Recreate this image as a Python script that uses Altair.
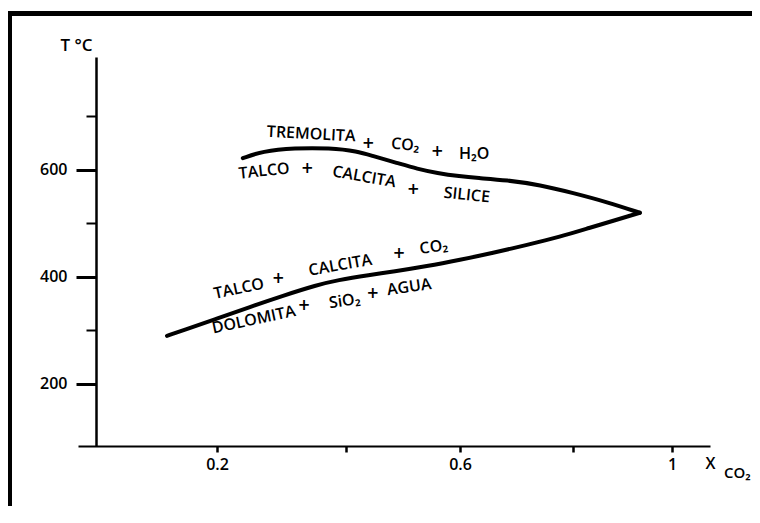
import altair as alt
import pandas as pd

# Upper branch (Tremolita / Talco+Calcita+Silice), left to right
upper_x = [0.24, 0.27, 0.32, 0.375, 0.42, 0.447, 0.49, 0.525, 0.56, 0.60, 0.63, 0.683, 0.742, 0.80, 0.869, 0.935]
upper_t = [622, 635, 641, 641, 635, 626, 613, 602, 594, 588, 585, 581, 572, 557, 540, 520]

# Lower branch (Talco+Calcita+CO2 / Dolomita+SiO2+Agua), left to right
lower_x = [0.1225, 0.147, 0.20, 0.251, 0.302, 0.355, 0.386, 0.442, 0.483, 0.542, 0.60, 0.658, 0.719, 0.777, 0.834, 0.885, 0.935]
lower_t = [290, 300, 322, 344, 365, 385, 394, 404, 410, 420, 432, 445, 460, 475, 492, 506, 520]

# Field labels (data coordinates)
label_text = ["TREMOLITA", "+", "CO₂", "+", "H₂O",
              "TALCO", "+", "CALCITA", "+", "SILICE",
              "TALCO", "+", "CALCITA", "+", "CO₂",
              "DOLOMITA", "+", "SiO₂", "+", "AGUA"]
label_x = [0.346, 0.439, 0.504, 0.560, 0.625,
           0.273, 0.340, 0.432, 0.518, 0.612,
           0.234, 0.295, 0.391, 0.493, 0.554,
           0.257, 0.335, 0.398, 0.447, 0.511]
label_t = [667, 650, 647, 635, 630,
           598, 604, 587, 564, 553,
           378, 398, 422, 445, 456,
           320, 347, 355, 370, 381]
label_angle = [3, 0, 5, 0, 0,
               -6, 0, 10, 0, 6,
               -12, 0, -10, 0, -8,
               -12, 0, -8, 0, -8]

x_ticks = [0.2, 0.4, 0.6, 0.8, 1.0]
y_ticks = [200, 300, 400, 500, 600, 700]

curve = pd.DataFrame({
    "x": upper_x + lower_x,
    "t": upper_t + lower_t,
    "branch": ["upper"] * len(upper_x) + ["lower"] * len(lower_x),
})
labels = pd.DataFrame({"text": label_text, "x": label_x, "t": label_t, "angle": label_angle})

FONT = "DejaVu Sans"
LFONT = "Open Sans"

xscale = alt.Scale(domain=[-0.0155, 0.2, 0.4, 0.6, 0.8, 1.0, 1.077],
                   range=[0, 139, 268, 382, 495, 594, 632], nice=False, zero=False)
yscale = alt.Scale(domain=[84.1, 811.1], nice=False, zero=False)

x_enc = alt.X("x:Q", scale=xscale, axis=alt.Axis(
    values=x_ticks, grid=False, domainColor="black", domainWidth=2,
    tickColor="black", tickSize=6, tickWidth=2.5,
    labelExpr="abs(datum.value-0.2)<1e-6 ? '0.2' : abs(datum.value-0.6)<1e-6 ? '0.6' : abs(datum.value-1)<1e-6 ? '1' : ''",
    labelFont=LFONT, labelFontSize=16, labelFontWeight=600, labelColor="black", labelPadding=4,
    title="X", titleFont=LFONT, titleFontSize=16, titleFontWeight=600, titleColor="black",
    titleX=627, titleY=22, titleAlign="left", titleBaseline="alphabetic", titleAnchor="start"))

y_enc = alt.Y("t:Q", scale=yscale, axis=alt.Axis(
    values=y_ticks, grid=False, offset=-18, domainColor="black", domainWidth=2.5,
    tickColor="black",
    tickSize=alt.condition("datum.value % 200 == 0", alt.value(20), alt.value(10)),
    tickWidth=alt.condition("datum.value % 200 == 0", alt.value(3), alt.value(2)),
    labelExpr="datum.value % 200 == 0 ? datum.label : ''",
    labelFont=LFONT, labelFontSize=16, labelFontWeight=600, labelColor="black", labelPadding=9,
    title="T °C", titleFont=LFONT, titleFontSize=17, titleFontWeight=600, titleColor="black",
    titleAngle=0, titleX=-4, titleY=-7, titleAlign="right", titleBaseline="alphabetic"))

lines = alt.Chart(curve).mark_line(color="black", strokeWidth=4, interpolate="basis",
                                   strokeCap="round", strokeJoin="round").encode(
    x=x_enc, y=y_enc, detail="branch:N")

words = alt.Chart(labels).transform_filter("datum.text != '+'").transform_calculate(
    a="(datum.angle + 360) % 360").mark_text(
    font=LFONT, fontSize=16, fontWeight=600, color="black", align="center", baseline="middle").encode(
    x="x:Q", y="t:Q", text="text:N", angle=alt.Angle("a:Q", scale=None))

plus = alt.Chart(labels).transform_filter("datum.text == '+'").mark_text(
    font=FONT, fontSize=15, fontWeight="bold", color="black", align="center", baseline="middle").encode(
    x="x:Q", y="t:Q", text="text:N")

one = pd.DataFrame({"k": [0]})
sub = alt.Chart(one).mark_text(font=LFONT, fontSize=15, fontWeight=600, color="black", align="left",
                               baseline="alphabetic", text="CO₂").encode(
    x=alt.value(646), y=alt.value(421))

frame_left = alt.Chart(one).mark_rule(color="black", strokeWidth=5).encode(
    x=alt.value(-68.5), y=alt.value(-46), y2=alt.value(480))
frame_top = alt.Chart(one).mark_rule(color="black", strokeWidth=5).encode(
    y=alt.value(-43.5), x=alt.value(-71), x2=alt.value(700))

chart = alt.layer(lines, words, plus, sub, frame_left, frame_top).properties(
    width=632, height=389,
    autosize=alt.AutoSizeParams(type="none"),
    padding={"left": 70, "top": 49, "right": 42, "bottom": 60},
    background="white",
).configure_view(stroke=None)

chart.save("out.html", embed_options={"renderer": "svg", "actions": False})
